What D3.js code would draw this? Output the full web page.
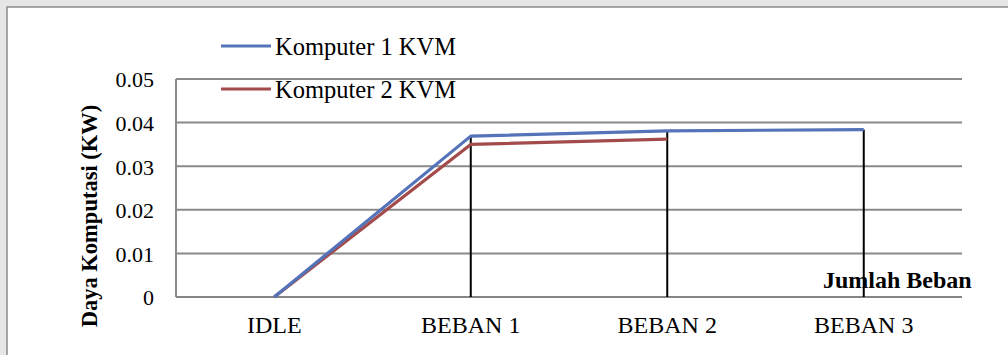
<!DOCTYPE html>
<html>
<head>
<meta charset="utf-8">
<script src="https://cdn.jsdelivr.net/npm/d3@7"></script>
<style>
  html, body { margin: 0; padding: 0; background: #ffffff; }
  svg { display: block; }
  svg text { font-family: "Times New Roman", "Liberation Serif", Times, "DejaVu Serif", serif !important; fill: #000; }
</style>
</head>
<body>
<svg id="chart" width="1008" height="355"></svg>
<script>
// Categories along the x axis
const categories = ["IDLE", "BEBAN 1", "BEBAN 2", "BEBAN 3"];
// Computing power (KW) per load level
const komputer1 = [0, 0.0369, 0.0381, 0.0384];
const komputer2 = [0, 0.0350, 0.0362, null];
const seriesNames = ["Komputer 1 KVM", "Komputer 2 KVM"];
const yTicks = [0, 0.01, 0.02, 0.03, 0.04, 0.05];
const yTickLabels = ["0", "0.01", "0.02", "0.03", "0.04", "0.05"];

const svg = d3.select("#chart");
const W = 1008, H = 355;

// page background and chart frame
svg.append("rect").attr("x", 0).attr("y", 0).attr("width", W).attr("height", H).attr("fill", "#e6e6e6");
svg.append("rect").attr("x", 7).attr("y", 7).attr("width", W + 10).attr("height", H + 10)
  .attr("fill", "#ffffff").attr("stroke", "#8c8c8c").attr("stroke-width", 1.5);

const plot = { left: 176, right: 962, top: 79, bottom: 297 };

const x = d3.scaleBand().domain(categories).range([plot.left, plot.right]).paddingInner(0).paddingOuter(0);
const xc = c => x(c) + x.bandwidth() / 2;
const y = d3.scaleLinear().domain([0, 0.05]).range([plot.bottom, plot.top]);

// horizontal gridlines
svg.append("g").selectAll("line").data(yTicks.slice(1)).join("line")
  .attr("x1", plot.left).attr("x2", plot.right)
  .attr("y1", d => y(d)).attr("y2", d => y(d))
  .attr("stroke", "#8a8a8a").attr("stroke-width", 2);

// y axis (labels only) and its line
const yAxis = d3.axisLeft(y).tickValues(yTicks).tickSize(0)
  .tickFormat((d, i) => yTickLabels[i]).tickPadding(22);
const gy = svg.append("g").attr("transform", `translate(${plot.left},0)`).call(yAxis);
gy.select(".domain").remove();
gy.attr("font-family", null);
gy.selectAll("text").attr("font-size", 22).attr("dy", "0.36em").attr("fill", "#000");
svg.append("line").attr("x1", plot.left).attr("x2", plot.left).attr("y1", plot.top).attr("y2", plot.bottom)
  .attr("stroke", "#8a8a8a").attr("stroke-width", 2);

// x axis
const xAxis = d3.axisBottom(x).tickSize(0).tickPadding(19);
const gx = svg.append("g").attr("transform", `translate(0,${plot.bottom})`).call(xAxis);
gx.select(".domain").remove();
gx.attr("font-family", null);
gx.selectAll("text").attr("font-size", 24).attr("fill", "#000");
svg.append("line").attr("x1", plot.left).attr("x2", plot.right).attr("y1", plot.bottom).attr("y2", plot.bottom)
  .attr("stroke", "#858585").attr("stroke-width", 2);

// drop lines from the highest point of each category
const maxVals = categories.map((c, i) => d3.max([komputer1[i], komputer2[i]].filter(v => v != null)));
svg.append("g").selectAll("line").data(categories).join("line")
  .attr("x1", c => xc(c)).attr("x2", c => xc(c))
  .attr("y1", (c, i) => y(maxVals[i])).attr("y2", plot.bottom)
  .attr("stroke", "#000").attr("stroke-width", 2);

// series lines
const line = d3.line().defined(d => d.v != null).x(d => xc(d.c)).y(d => y(d.v));
const series = [
  { name: seriesNames[0], values: komputer1, color: "#5573b9" },
  { name: seriesNames[1], values: komputer2, color: "#a34b4b" }
];
series.slice().reverse().forEach(s => {
  svg.append("path")
    .datum(categories.map((c, i) => ({ c, v: s.values[i] })))
    .attr("d", line).attr("fill", "none")
    .attr("stroke", s.color).attr("stroke-width", 3.2).attr("stroke-linejoin", "round");
});

// legend
const legendY = [46, 89];
series.forEach((s, i) => {
  svg.append("line").attr("x1", 221).attr("x2", 271).attr("y1", legendY[i]).attr("y2", legendY[i])
    .attr("stroke", s.color).attr("stroke-width", 3.2);
  svg.append("text").attr("x", 275).attr("y", legendY[i] + 8.5)
    .attr("font-size", 24.5).text(s.name);
});

// axis titles
svg.append("text").attr("x", 823).attr("y", 288)
  .attr("font-weight", "bold").attr("font-size", 24).text("Jumlah Beban");
svg.append("text").attr("transform", "translate(97,216) rotate(-90)")
  .attr("text-anchor", "middle").attr("font-weight", "bold").attr("font-size", 22.5)
  .text("Daya Komputasi (KW)");
</script>
</body>
</html>
